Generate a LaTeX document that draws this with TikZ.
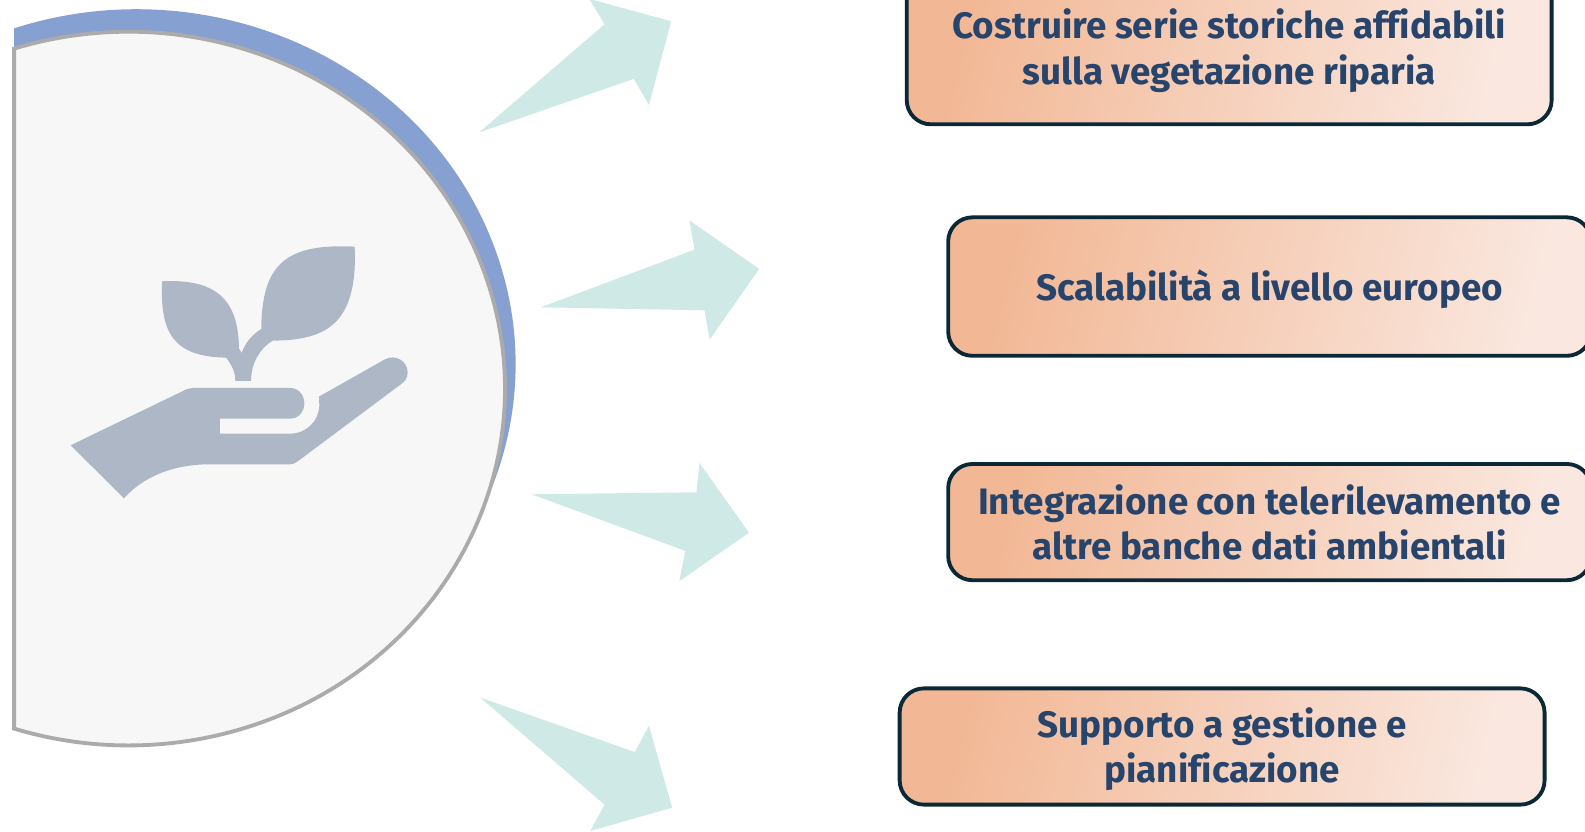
\documentclass[tikz,border=0pt]{standalone}
\usepackage{fontspec}
\setmainfont{Fira Sans}[Ligatures=NoCommon]
\definecolor{gradA}{HTML}{F2B794}
\definecolor{gradB}{HTML}{FAE8E0}
\definecolor{boxline}{HTML}{0B2837}
\definecolor{boxtext}{HTML}{27446C}
\definecolor{discfill}{HTML}{F7F7F7}
\definecolor{discline}{HTML}{ABABAB}
\definecolor{discblue}{HTML}{87A0D2}
\definecolor{iconcol}{HTML}{ADB7C5}
\definecolor{arrowcol}{HTML}{CFE9E7}
\pgfdeclarehorizontalshading{boxgrad}{100bp}{color(0bp)=(gradA);color(25bp)=(gradA);color(75bp)=(gradB);color(100bp)=(gradB)}
\tikzset{
  boxnode/.style={draw=boxline,line width=1.9pt,rounded corners=12pt,shade,shading=boxgrad,shading angle=-14,
    inner sep=0pt,minimum width=#1},
  boxlabel/.style={text=boxtext,font=\fontsize{18.2}{22.4}\selectfont\bfseries,align=center,inner sep=0pt},
  bigarrow/.style={fill=arrowcol,draw=none}
}
\begin{document}
\begin{tikzpicture}[x=0.5pt,y=-0.5pt]
\useasboundingbox (0,0) rectangle (1568,823);
\clip (0,0) rectangle (1568,823);
% blue back disc
\fill[discblue] (14,28) arc[x radius=375,y radius=351,start angle=-108.83,end angle=108.83] -- cycle;
% grey disc
\draw[fill=discfill,draw=discline,line width=1.9pt,line join=miter]
  (14,48.1) arc[x radius=372.5,y radius=353,start angle=-107.66,end angle=107.66] -- cycle;
% icon
\begin{scope}[shift={(59.35,227.5)},x=0.16487pt,y=-0.16487pt]
\fill[iconcol] (32,646) -- (365,485) .. controls (378,478) and (388,474) .. (400,474) -- (690,474)
  .. controls (715,474) and (733,494) .. (733,520) .. controls (733,546) and (715,566) .. (690,566)
  -- (480,566) -- (480,611) -- (690,611) .. controls (740,611) and (778,572) .. (778,525)
  -- (777,500) -- (975,388) .. controls (1005,372) and (1043,392) .. (1043,428)
  .. controls (1043,445) and (1035,455) .. (1020,465) -- (712,695)
  .. controls (705,700) and (698,703) .. (690,703) -- (450,703)
  .. controls (340,703) and (250,740) .. (192,805) -- cycle;
\fill[iconcol] (526,453) -- (573,453) .. controls (573,400) and (600,355) .. (638,332)
  .. controls (790,331) and (895,290) .. (884,50)
  .. controls (680,40) and (605,100) .. (604,297)
  .. controls (575,315) and (555,340) .. (545,369) -- (537,355)
  .. controls (535,220) and (480,145) .. (306,154)
  .. controls (300,310) and (340,380) .. (498,383)
  .. controls (515,405) and (526,425) .. (526,453) -- cycle;
\end{scope}
% arrows
\fill[bigarrow] (474,131) -- (598,24) -- (583,-1) -- (664,21) -- (642,104) -- (627,78) -- cycle;
\fill[bigarrow] (535,304) -- (687,247) -- (682,218) -- (751,266) -- (702,336) -- (697,307) -- cycle;
\fill[bigarrow] (526,489) -- (689,487) -- (692,458) -- (741,527) -- (672,575) -- (678,545) -- cycle;
\fill[bigarrow] (475,690) -- (628,744) -- (642,718) -- (665,799) -- (584,822) -- (598,796) -- cycle;
% boxes
\node[boxnode=319pt,minimum height=75pt] (b1) at (1216,48) {};
\node[boxlabel,yshift=-1pt] (t1) at (b1.center) {Costruire serie storiche affidabili\\sulla vegetazione riparia};
\node[boxnode=318pt,minimum height=68.5pt] (b2) at (1256,283.5) {};
\node[boxlabel,yshift=-1.2pt] (t2) at (b2.center) {Scalabilità a livello europeo};
\node[boxnode=318pt,minimum height=57.5pt] (b3) at (1256,516.5) {};
\node[boxlabel] (t3) at (b3.center) {Integrazione con telerilevamento e\\altre banche dati ambientali};
\node[boxnode=319pt,minimum height=57.5pt] (b4) at (1209,738.5) {};
\node[boxlabel,yshift=-1.2pt] (t4) at (b4.center) {Supporto a gestione e\\pianificazione};
\end{tikzpicture}
\end{document}
